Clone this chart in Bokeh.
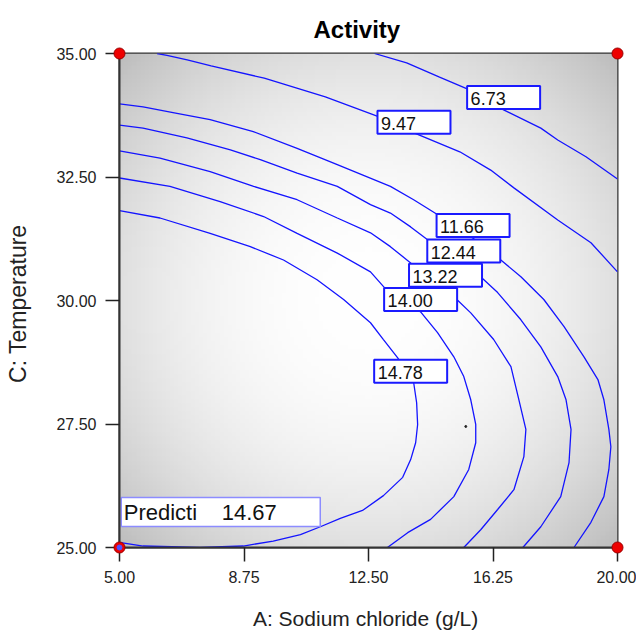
import numpy as np
from bokeh.plotting import figure
from bokeh.models import FixedTicker, Range1d
from bokeh.core.properties import value
from bokeh.embed import file_html
from bokeh.resources import INLINE

# ---------------- data ----------------
title_text = "Activity"
x_label = "A:  Sodium chloride (g/L)"
y_label = "C:  Temperature"
x_ticks = [5.0, 8.75, 12.5, 16.25, 20.0]
x_tick_labels = ["5.00", "8.75", "12.50", "16.25", "20.00"]
y_ticks = [25.0, 27.5, 30.0, 32.5, 35.0]
y_tick_labels = ["25.00", "27.50", "30.00", "32.50", "35.00"]

contour_levels = [6.73, 9.47, 11.66, 12.44, 13.22, 14.00, 14.78]

c673_x = [12.68, 13.65, 14.64, 15.49, 16.57, 17.69, 18.20, 19.05, 20.00]
c673_y = [35.00, 34.81, 34.52, 34.28, 33.86, 33.49, 33.25, 32.91, 32.46]

c947_x = [6.13, 6.43, 7.04, 7.76, 9.36, 11.20, 12.80, 13.89, 15.25, 16.18, 16.88, 18.20, 19.20, 20.00]
c947_y = [35.00, 34.96, 34.87, 34.75, 34.50, 34.12, 33.72, 33.39, 33.01, 32.64, 32.28, 31.63, 31.17, 30.58]

c1166_x = [5.00, 5.71, 6.73, 7.73, 9.03, 10.35, 11.56, 13.16, 13.86, 14.55, 15.67, 16.45, 17.09, 17.78,
           18.39, 18.99, 19.41, 19.59, 19.74, 19.80, 19.74, 19.59, 19.20, 18.69]
c1166_y = [33.98, 33.92, 33.79, 33.66, 33.42, 33.08, 32.75, 32.31, 32.04, 31.75, 31.25, 30.84, 30.48, 30.02,
           29.47, 28.86, 28.40, 27.99, 27.39, 27.04, 26.58, 26.03, 25.51, 25.00]

c1244_x = [5.00, 5.71, 7.03, 8.34, 9.24, 10.35, 11.56, 12.56, 13.16, 13.77, 14.28, 15.91, 16.39, 17.09,
           17.69, 18.20, 18.45, 18.60, 18.54, 18.29, 17.69, 17.15]
c1244_y = [33.55, 33.49, 33.29, 33.05, 32.85, 32.58, 32.31, 31.94, 31.77, 31.49, 31.23, 30.46, 30.16, 29.61,
           29.06, 28.46, 27.99, 27.39, 26.72, 26.03, 25.42, 25.00]

c1322_x = [5.00, 6.22, 7.73, 9.04, 10.35, 11.56, 12.56, 13.16, 13.77, 15.16, 15.58, 16.27, 16.79, 17.03,
           17.24, 17.18, 16.88, 16.39, 15.88, 15.37]
c1322_y = [33.03, 32.88, 32.61, 32.31, 32.04, 31.67, 31.37, 31.09, 30.76, 30.02, 29.75, 29.21, 28.66, 27.99,
           27.39, 26.84, 26.17, 25.77, 25.36, 25.00]

c1400_x = [5.00, 6.52, 8.03, 9.34, 10.35, 11.56, 12.56, 12.98, 14.07, 14.58, 15.07, 15.37, 15.58, 15.73,
           15.73, 15.52, 15.07, 14.37, 13.68, 13.07]
c1400_y = [32.48, 32.31, 32.00, 31.70, 31.36, 30.96, 30.58, 30.26, 29.77, 29.35, 28.86, 28.46, 27.99, 27.49,
           27.12, 26.58, 26.03, 25.57, 25.30, 25.00]

c1478_x = [5.00, 6.22, 7.73, 8.94, 9.94, 10.95, 11.75, 12.56, 12.95, 13.38, 13.86, 13.95, 13.98, 13.92,
           13.77, 13.53, 12.95, 12.32, 11.65, 11.05, 10.45, 9.63, 8.73, 7.43, 5.71, 5.04]
c1478_y = [31.82, 31.67, 31.36, 31.09, 30.82, 30.42, 30.02, 29.55, 29.21, 28.84, 28.34, 27.93, 27.49, 27.12,
           26.78, 26.42, 26.05, 25.75, 25.59, 25.42, 25.26, 25.13, 25.03, 25.00, 25.03, 25.10]

# contour label anchor points (placement)
label_x = [16.57, 13.87, 15.65, 15.37, 14.82, 14.07, 13.77]
label_y = [34.11, 33.61, 31.52, 31.00, 30.51, 30.02, 28.57]

# design points (corners) and prediction flag
design_x = [5.0, 20.0, 5.0, 20.0]
design_y = [35.0, 35.0, 25.0, 25.0]
selected_x = [5.0]
selected_y = [25.0]
center_dot_x = [15.43]
center_dot_y = [27.45]
pred_name = "Predicti"
pred_value = 14.67
pred_box_x = [8.05]
pred_box_y = [25.72]

# ---------------- figure ----------------
FONT = "Liberation Sans"
p = figure(width=636, height=632, output_backend="svg", toolbar_location=None,
           x_range=Range1d(5, 20), y_range=Range1d(25, 35),
           min_border_left=119, min_border_right=19, min_border_top=53, min_border_bottom=84)

p.title.text = title_text
p.title.text_font = FONT
p.title.text_font_size = "24px"
p.title.text_font_style = "bold"
p.title.text_color = "#000000"
p.title.align = "left"
p.title.offset = 194
p.title.standoff = 21

p.background_fill_color = "white"
p.border_fill_color = "white"
p.outline_line_color = "#333333"
p.outline_line_width = 2
p.grid.visible = False

# background radial gradient (decoration)
H, W = 120, 120
gx, gy = np.meshgrid(np.linspace(-1, 1, W), np.linspace(-1, 1, H))
d2 = (gx ** 2 + gy ** 2) / 2.0
v = np.clip(255 - 66 * d2 ** 1.1, 0, 255).astype(np.uint8)
img = np.empty((H, W), dtype=np.uint32)
view = img.view(dtype=np.uint8).reshape((H, W, 4))
view[:, :, 0] = v
view[:, :, 1] = v
view[:, :, 2] = v
view[:, :, 3] = 255
p.image_rgba(image=[img], x=5, y=25, dw=15, dh=10)

# contour lines
line_color = "#1414ff"
for cx, cy in [(c673_x, c673_y), (c947_x, c947_y), (c1166_x, c1166_y), (c1244_x, c1244_y),
               (c1322_x, c1322_y), (c1400_x, c1400_y), (c1478_x, c1478_y)]:
    p.line(cx, cy, line_color=line_color, line_width=1.3)

# contour labels
p.rect(x=label_x, y=label_y, width=73, height=23, width_units="screen", height_units="screen",
       fill_color="white", line_color="#1a1aff", line_width=2)
p.text(x=label_x, y=label_y, text=[f"{lv:.2f}" for lv in contour_levels],
       text_font=value(FONT), text_font_size="18px", text_color="#111111",
       text_align="left", text_baseline="middle", x_offset=-33, y_offset=1)

# prediction box
p.rect(x=pred_box_x, y=pred_box_y, width=199, height=29, width_units="screen", height_units="screen",
       fill_color="white", line_color="#8c8cff", line_width=1.5)
p.text(x=pred_box_x, y=pred_box_y, text=[pred_name], text_font=value(FONT), text_font_size="22px",
       text_color="#111111", text_align="left", text_baseline="middle", x_offset=-97, y_offset=1)
p.text(x=pred_box_x, y=pred_box_y, text=[f"{pred_value:.2f}"], text_font=value(FONT), text_font_size="22px",
       text_color="#111111", text_align="left", text_baseline="middle", x_offset=1, y_offset=1)

# small center dot
p.scatter(center_dot_x, center_dot_y, size=2, color="#222222")

# design points
p.scatter(design_x, design_y, size=11, fill_color="#ee0000", line_color="#990000", line_width=1,
          level="overlay")
p.scatter(selected_x, selected_y, size=5, fill_color="#5050ff", line_color="#5050ff", level="overlay")

# axes
for ax in (p.xaxis[0], p.yaxis[0]):
    ax.axis_line_color = "#333333"
    ax.axis_line_width = 2
    ax.major_tick_out = 14
    ax.major_tick_in = 0
    ax.major_tick_line_color = "#222222"
    ax.major_tick_line_width = 1.5
    ax.minor_tick_line_color = None
    ax.major_label_text_font = FONT
    ax.major_label_text_font_size = "16px"
    ax.major_label_text_color = "#222222"
    ax.major_label_standoff = 9
    ax.axis_label_text_font = FONT
    ax.axis_label_text_font_style = "normal"
    ax.axis_label_text_color = "#222222"

p.xaxis[0].axis_label_text_font_size = "21px"
p.yaxis[0].axis_label_text_font_size = "23px"
p.xaxis[0].ticker = FixedTicker(ticks=x_ticks)
p.xaxis[0].major_label_overrides = {t: s for t, s in zip(x_ticks, x_tick_labels)}
p.yaxis[0].ticker = FixedTicker(ticks=y_ticks)
p.yaxis[0].major_label_overrides = {t: s for t, s in zip(y_ticks, y_tick_labels)}
p.xaxis[0].axis_label = x_label
p.yaxis[0].axis_label = y_label
p.xaxis[0].axis_label_standoff = 21
p.yaxis[0].axis_label_standoff = 22

open("out.html", "w").write(file_html(p, INLINE))
